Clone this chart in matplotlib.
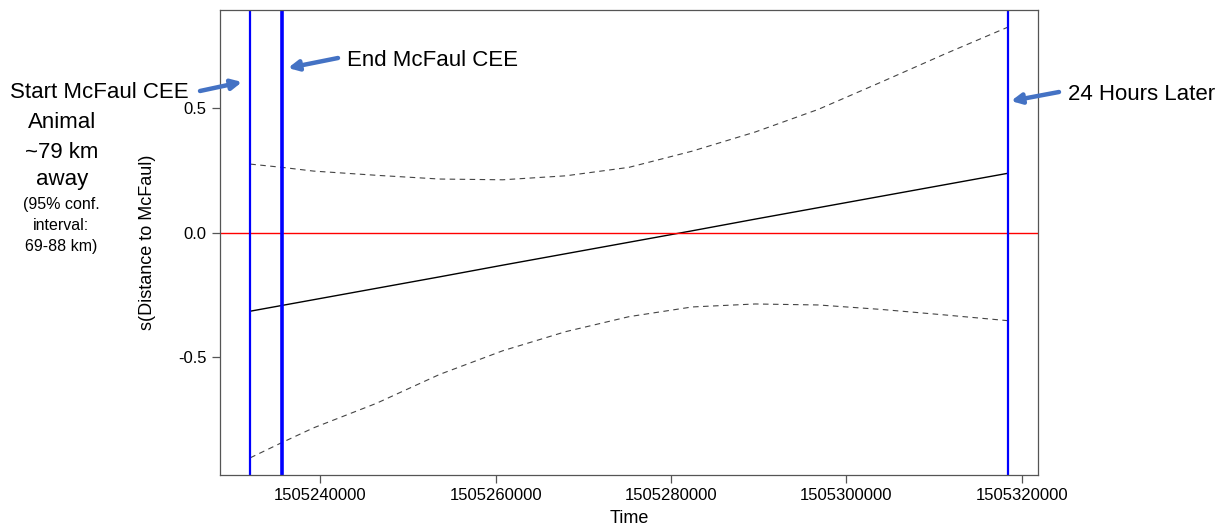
import numpy as np
import matplotlib
matplotlib.use("Agg")
import matplotlib.pyplot as plt
from matplotlib.ticker import FormatStrFormatter

plt.rcParams['font.family'] = ['Liberation Sans', 'DejaVu Sans']

# time (unix seconds) and smooth term with 95% band
t = [1505232000, 1505235600, 1505239200, 1505246400, 1505253600, 1505260800,
     1505268000, 1505275200, 1505282400, 1505289600, 1505296800, 1505304000,
     1505311200, 1505318400]
fit = [-0.316, -0.293, -0.270, -0.224, -0.178, -0.131,
       -0.085, -0.039, 0.007, 0.054, 0.100, 0.146,
       0.192, 0.238]
upper = [0.275, 0.262, 0.247, 0.230, 0.215, 0.212,
         0.228, 0.262, 0.327, 0.404, 0.495, 0.605,
         0.717, 0.825]
lower = [-0.905, -0.844, -0.785, -0.686, -0.570, -0.475,
         -0.398, -0.338, -0.299, -0.287, -0.291, -0.309,
         -0.331, -0.354]

cee_start = 1505232000
cee_end = 1505235600
later_24h = 1505318400

fig = plt.figure(figsize=(12.2, 5.31), dpi=100)
ax = fig.add_axes([220/1220, 1-475/531, (1038-220)/1220, (475-10)/531])

ax.plot(t, fit, color='black', linewidth=1.0)
ax.plot(t, upper, color='#444444', linewidth=0.8, dashes=(5, 4))
ax.plot(t, lower, color='#444444', linewidth=0.8, dashes=(5, 4))
ax.axhline(0, color='#ff0000', linewidth=1.0)
ax.axvline(cee_start, color='blue', linewidth=1.6)
ax.axvline(cee_end, color='blue', linewidth=2.6)
ax.axvline(later_24h, color='blue', linewidth=1.6)

# R style 4% padding
span = t[-1] - t[0]
ax.set_xlim(t[0] - 0.04*span, t[-1] + 0.04*span)
ymin, ymax = min(lower), max(upper)
ax.set_ylim(ymin - 0.04*(ymax-ymin), ymax + 0.04*(ymax-ymin))

ax.set_xticks([1505240000, 1505260000, 1505280000, 1505300000, 1505320000])
ax.set_xticklabels(['1505240000', '1505260000', '1505280000', '1505300000', '1505320000'])
ax.set_yticks([-0.5, 0.0, 0.5])
ax.yaxis.set_major_formatter(FormatStrFormatter('%.1f'))
ax.tick_params(labelsize=12, length=6, width=0.9, color='#555555', direction='out')
for s in ax.spines.values():
    s.set_color('#555555')
    s.set_linewidth(0.9)

ax.set_xlabel('Time', fontsize=13, labelpad=5)
ax.set_ylabel('s(Distance to McFaul)', fontsize=13, labelpad=16)

# annotations (figure pixel coordinates)
H = 531
blue = '#4472C4'
def arrow(x0, y0, x1, y1):
    ax.annotate('', xy=(x1, H-y1), xycoords='figure pixels',
                xytext=(x0, H-y0), textcoords='figure pixels',
                arrowprops=dict(arrowstyle='-|>,head_length=0.6,head_width=0.3',
                                color=blue, lw=3.2, shrinkA=0, shrinkB=0))

arrow(200, 91, 242, 82)
arrow(338, 58, 288, 68)
arrow(1059, 92, 1011, 101)

fig.text(99, H-93, 'Start McFaul CEE', transform=None, fontsize=16, ha='center', va='center')
for y, s in [(123, 'Animal'), (152, '~79 km'), (180, 'away')]:
    fig.text(62, H-y, s, transform=None, fontsize=16, ha='center', va='center')
for y, s in [(205, '(95% conf.'), (226, 'interval:'), (246, '69-88 km)')]:
    fig.text(61, H-y, s, transform=None, fontsize=11.5, ha='center', va='center')
fig.text(347, H-60, 'End McFaul CEE', transform=None, fontsize=16, ha='left', va='center')
fig.text(1068, H-94, '24 Hours Later', transform=None, fontsize=16, ha='left', va='center')

fig.savefig('out.png', dpi=100)
